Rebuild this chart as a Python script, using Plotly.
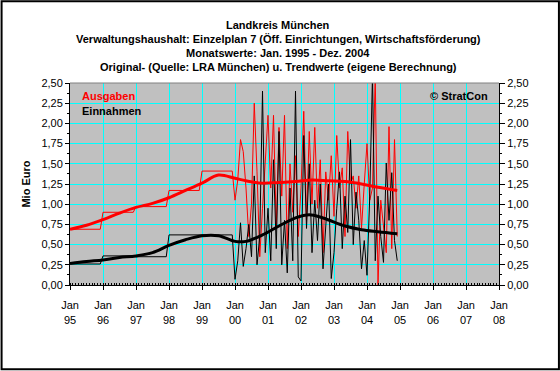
import plotly.graph_objects as go

# ---------------- data ----------------
years = ["95", "96", "97", "98", "99", "00", "01", "02", "03", "04", "05", "06", "07", "08"]
# yearly monthly-average values 1995-1999 (Mio Euro)
aus_yearly = [0.69, 0.90, 0.97, 1.17, 1.41]
ein_yearly = [0.26, 0.36, 0.35, 0.62, 0.62]
# monthly values Jan 2000 - Dec 2004
aus_2000 = [1.05, 1.30, 1.80, 1.65, 1.20, 0.60, 1.00, 2.25, 1.40, 0.35, 0.95, 1.55]
aus_2001 = [2.10, 1.20, 2.10, 0.70, 1.95, 1.10, 2.10, 0.45, 1.50, 0.90, 1.60, 0.60]
aus_2002 = [1.20, 2.15, 0.80, 1.90, 1.00, 1.95, 0.95, 1.55, 0.40, 1.40, 1.05, 1.60]
aus_2003 = [0.85, 1.85, 1.20, 1.45, 0.60, 1.90, 1.25, 1.35, 0.95, 1.35, 0.70, 1.25]
aus_2004 = [1.75, 1.05, 1.20, 2.60, 0.00, 1.05, 0.70, 0.40, 1.96, 0.45, 1.80, 0.60]
ein_2000 = [0.07, 0.30, 0.77, 0.23, 0.45, 0.75, 0.35, 1.35, 0.25, 0.60, 2.40, 0.40]
ein_2001 = [0.95, 0.30, 1.55, 0.45, 1.90, 0.25, 0.80, 0.15, 1.20, 0.30, 2.40, 0.10]
ein_2002 = [0.05, 1.85, 0.70, 1.50, 0.40, 1.05, 0.55, 1.25, 0.20, 0.70, 1.25, 0.08]
ein_2003 = [0.40, 0.95, 1.40, 0.45, 1.10, 0.65, 1.80, 0.50, 1.15, 0.80, 0.20, 0.55]
ein_2004 = [0.12, 1.10, 2.60, 0.30, 1.10, 0.60, 0.28, 1.51, 0.80, 1.39, 0.55, 0.30]
# trend values (month index from Jan 1995, value)
aus_trend_m = [0, 6, 12, 18, 24, 30, 36, 42, 48, 54, 60, 64, 70, 76, 82, 88, 94, 100, 106, 112, 119]
aus_trend_v = [0.69, 0.74, 0.81, 0.89, 0.96, 1.01, 1.08, 1.17, 1.26, 1.36, 1.32, 1.29, 1.26, 1.27, 1.28, 1.30, 1.29, 1.28, 1.25, 1.21, 1.17]
ein_trend_m = [0, 6, 12, 18, 24, 30, 36, 42, 48, 54, 60, 64, 70, 76, 82, 87, 92, 100, 106, 112, 119]
ein_trend_v = [0.265, 0.29, 0.31, 0.34, 0.36, 0.40, 0.49, 0.56, 0.61, 0.61, 0.54, 0.54, 0.62, 0.73, 0.83, 0.87, 0.83, 0.73, 0.685, 0.66, 0.635]

# ---------------- build series ----------------
aus_all = [v for v in aus_yearly for _ in range(12)] + aus_2000 + aus_2001 + aus_2002 + aus_2003 + aus_2004
ein_all = [v for v in ein_yearly for _ in range(12)] + ein_2000 + ein_2001 + ein_2002 + ein_2003 + ein_2004
months = list(range(len(aus_all)))

FONT = "Liberation Sans, Arial, sans-serif"
fig = go.Figure()
fig.add_trace(go.Scatter(x=months, y=aus_all, mode="lines", line=dict(color="#FF0000", width=1)))
fig.add_trace(go.Scatter(x=months, y=ein_all, mode="lines", line=dict(color="#000000", width=1)))
fig.add_trace(go.Scatter(x=aus_trend_m, y=aus_trend_v, mode="lines", line=dict(color="#FF0000", width=3, shape="spline")))
fig.add_trace(go.Scatter(x=ein_trend_m, y=ein_trend_v, mode="lines", line=dict(color="#000000", width=3, shape="spline")))
# invisible trace for right axis
fig.add_trace(go.Scatter(x=[0], y=[0], yaxis="y2", mode="lines", line=dict(width=0), hoverinfo="skip"))

tickvals = [12 * i for i in range(len(years))]
ticktext = ["Jan<br>" + y for y in years]

PW, PH = 429.5, 202.5
fig.update_layout(
    width=560, height=371,
    margin=dict(l=69.5, r=61, t=83, b=85.5, autoexpand=False),
    paper_bgcolor="white", plot_bgcolor="#C0C0C0",
    showlegend=False,
    separators=",.",
    font=dict(family=FONT, size=11, color="black"),
    xaxis=dict(range=[0, 156], tickvals=tickvals, ticktext=ticktext,
               showgrid=True, gridcolor="#00FFFF", gridwidth=1,
               showline=True, linecolor="black", linewidth=1,
               ticks="outside", ticklen=4, tickcolor="black", ticklabelstandoff=6,
               minor=dict(dtick=1, tick0=0, ticks="inside", ticklen=2, tickcolor="black", showgrid=False),
               zeroline=False, tickfont=dict(size=11)),
    yaxis=dict(range=[0, 2.5], dtick=0.25, tickformat=".2f",
               showgrid=True, gridcolor="#00FFFF", gridwidth=1,
               showline=True, linecolor="black", linewidth=1,
               ticks="outside", ticklen=4, tickcolor="black",
               minor=dict(dtick=0.125, ticks="outside", ticklen=2, tickcolor="black", showgrid=False),
               zeroline=False, tickfont=dict(size=11),
               title=dict(text="<b>Mio Euro</b>", font=dict(size=11), standoff=8)),
    yaxis2=dict(range=[0, 2.5], dtick=0.25, tickformat=".2f", overlaying="y", side="right",
                showgrid=False, showline=True, linecolor="black", linewidth=1,
                ticks="outside", ticklen=5, tickcolor="black",
                minor=dict(dtick=0.125, ticks="outside", ticklen=2, tickcolor="black"),
                zeroline=False, tickfont=dict(size=11)),
)

# title lines (one annotation per line, pixel y centres)
title_lines = ["Landkreis München",
               "Verwaltungshaushalt: Einzelplan 7 (Öff. Einrichtungen, Wirtschaftsförderung)",
               "Monatswerte: Jan. 1995 - Dez. 2004",
               "Original- (Quelle: LRA München) u. Trendwerte (eigene Berechnung)"]
title_y = [25, 39, 53, 66.5]
for line, py in zip(title_lines, title_y):
    fig.add_annotation(text="<b>" + line + "</b>", xref="paper", yref="paper",
                       x=(278 - 69.5) / PW, y=1 + (83 - py) / PH, xanchor="center", yanchor="middle",
                       showarrow=False, align="center", font=dict(size=11))
fig.add_annotation(text="<b>Ausgaben</b>", xref="paper", yref="paper", x=10 / PW, y=1 - 13 / PH,
                   xanchor="left", yanchor="middle", showarrow=False, font=dict(size=11, color="#FF0000"))
fig.add_annotation(text="<b>Einnahmen</b>", xref="paper", yref="paper", x=10 / PW, y=1 - 28.5 / PH,
                   xanchor="left", yanchor="middle", showarrow=False, font=dict(size=11, color="black"))
fig.add_annotation(text="<b>© StratCon</b>", xref="paper", yref="paper", x=(490 - 69.5) / PW, y=1 - 13 / PH,
                   xanchor="right", yanchor="middle", showarrow=False, font=dict(size=11, color="black"))
# outer frame
fig.add_shape(type="rect", xref="paper", yref="paper",
              x0=-68.5 / PW, x1=1 + 60 / PW, y0=-84.5 / PH, y1=1 + 82 / PH,
              line=dict(color="black", width=2))
# grey top border
fig.add_shape(type="line", xref="paper", yref="paper", x0=0, x1=1, y0=1, y1=1,
              line=dict(color="#808080", width=1))

fig.write_html("out.html", config={"displayModeBar": False, "staticPlot": True},
               post_script="document.body.style.margin='0';document.body.style.padding='0';")
